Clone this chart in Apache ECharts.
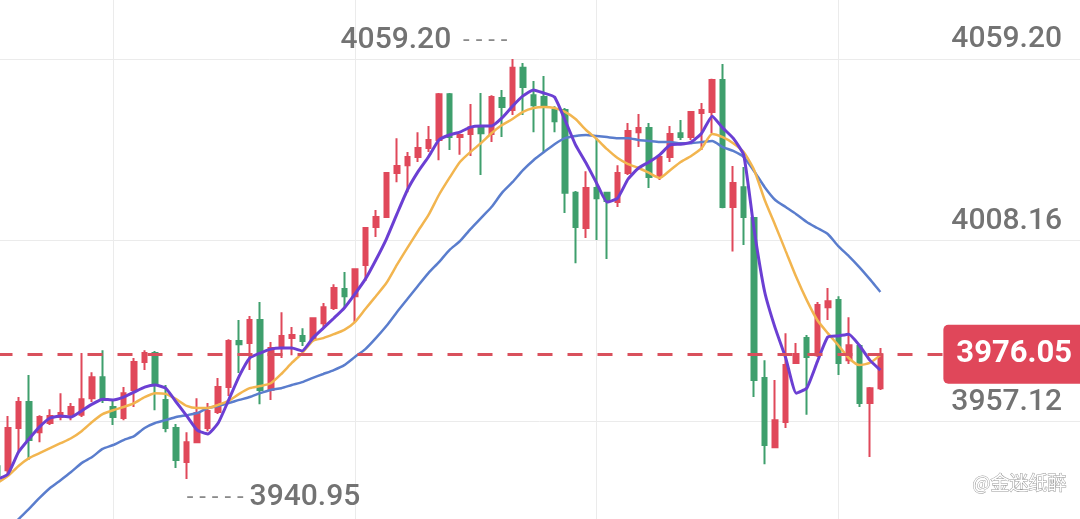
<!DOCTYPE html>
<html>
<head>
<meta charset="utf-8">
<script src="https://cdn.jsdelivr.net/npm/echarts@6/dist/echarts.min.js"></script>
<style>
  html, body { margin: 0; padding: 0; background: #fff; }
  #chart { width: 1080px; height: 519px; }
</style>
</head>
<body>
<div id="chart"></div>
<script>
// candles, left to right
var opens = [3944.5, 3943.4, 3955.3, 3962.6, 3954.1, 3956.7, 3958.4, 3959.0, 3959.0, 3963.7,
  3969.6, 3961.2, 3958.1, 3966.0, 3973.9, 3976.4, 3963.2, 3955.3, 3945.7, 3951.3,
  3955.3, 3959.8, 3966.8, 3979.8, 3979.2, 3985.7, 3966.0, 3977.8, 3980.6, 3981.2,
  3980.3, 3984.8, 3989.1, 3994.4, 3992.4, 4001.2, 4011.9, 4014.7, 4027.1, 4029.3,
  4031.6, 4034.1, 4036.4, 4049.3, 4037.2, 4038.1, 4040.0, 4038.1, 4048.2, 4044.8,
  4056.7, 4049.0, 4048.5, 4044.8, 4044.8, 4021.5, 4011.6, 4022.9, 4021.5, 4018.9,
  4027.1, 4038.6, 4039.8, 4026.0, 4031.6, 4038.3, 4037.2, 4044.0, 4044.3, 4053.3,
  4017.5, 4023.1, 4014.4, 3969.4, 3949.9, 3957.0, 3973.6, 3980.6, 3975.8, 3989.3,
  3991.3, 3974.4, 3978.4, 3962.3, 3966.5]
var closes = [3942.0, 3955.3, 3962.6, 3951.9, 3958.4, 3958.7, 3959.5, 3961.2, 3963.4, 3969.6,
  3963.2, 3958.4, 3965.1, 3973.9, 3976.4, 3967.4, 3955.3, 3946.3, 3951.3, 3959.5,
  3960.1, 3966.8, 3979.8, 3978.9, 3985.7, 3966.0, 3977.8, 3981.2, 3981.5, 3979.8,
  3986.2, 3989.3, 3994.7, 3992.4, 4000.0, 4011.6, 4014.7, 4027.1, 4029.1, 4031.6,
  4034.1, 4036.4, 4049.3, 4037.2, 4037.8, 4040.0, 4038.3, 4048.5, 4045.7, 4056.7,
  4051.3, 4046.2, 4045.7, 4041.7, 4021.5, 4011.9, 4022.9, 4020.0, 4019.2, 4027.1,
  4038.9, 4039.8, 4026.0, 4031.6, 4038.1, 4037.2, 4044.3, 4044.8, 4053.3, 4017.5,
  4024.3, 4014.7, 3968.8, 3950.5, 3957.5, 3973.0, 3976.1, 3975.3, 3989.9, 3991.0,
  3973.6, 3978.6, 3962.3, 3966.5, 3976.05]
var lows = [3941.2, 3942.0, 3948.5, 3946.3, 3951.3, 3956.1, 3957.5, 3957.5, 3958.4, 3962.6,
  3962.3, 3956.1, 3957.5, 3961.2, 3971.6, 3960.3, 3954.1, 3944.0, 3940.95, 3951.0,
  3954.4, 3959.2, 3964.3, 3970.8, 3971.6, 3962.0, 3963.2, 3975.0, 3975.8, 3978.4,
  3979.8, 3983.7, 3988.5, 3989.3, 3985.1, 3996.7, 4009.1, 4014.4, 4024.5, 4021.7,
  4030.2, 4033.0, 4030.7, 4033.6, 4032.2, 4031.9, 4026.5, 4035.8, 4037.2, 4043.4,
  4043.4, 4038.6, 4032.7, 4038.6, 4015.8, 4001.7, 4008.8, 4008.2, 4002.9, 4017.5,
  4026.5, 4034.4, 4022.9, 4025.1, 4030.2, 4036.4, 4036.4, 4033.6, 4038.3, 4017.2,
  4005.0, 4006.8, 3964.0, 3945.1, 3949.6, 3955.3, 3973.3, 3959.0, 3975.3, 3985.7,
  3970.2, 3973.3, 3961.2, 3947.1, 3966.0]
var highs = [3946.0, 3958.7, 3964.0, 3970.2, 3958.9, 3960.6, 3965.1, 3962.3, 3976.4, 3971.0,
  3977.2, 3963.2, 3966.8, 3975.0, 3977.2, 3977.0, 3967.4, 3956.4, 3954.1, 3963.7,
  3962.3, 3969.4, 3980.3, 3985.7, 3986.8, 3990.8, 3979.5, 3987.9, 3983.7, 3983.4,
  3986.5, 3990.5, 3995.8, 3999.2, 4000.3, 4011.9, 4016.7, 4027.4, 4036.9, 4033.0,
  4038.6, 4040.3, 4049.6, 4049.6, 4038.1, 4046.5, 4049.6, 4049.0, 4050.5, 4059.2,
  4058.1, 4053.0, 4054.4, 4045.9, 4045.4, 4022.0, 4027.6, 4036.9, 4021.7, 4029.3,
  4041.2, 4043.7, 4041.2, 4031.9, 4040.3, 4042.0, 4044.5, 4046.8, 4053.6, 4057.8,
  4029.1, 4028.8, 4014.7, 3974.4, 3968.8, 3982.0, 3979.2, 3981.5, 3990.8, 3994.7,
  3992.4, 3986.5, 3978.9, 3966.8, 3977.8]

// moving averages
var maFast = [3940.9, 3942.3, 3948.5, 3952.2, 3955.6, 3958.1, 3958.7, 3958.4, 3960.1, 3962.0,
  3963.4, 3963.2, 3964.0, 3965.4, 3966.8, 3967.4, 3966.5, 3962.6, 3958.7, 3954.7,
  3953.6, 3956.7, 3963.2, 3969.9, 3975.0, 3976.4, 3977.5, 3977.8, 3977.8, 3977.0,
  3980.6, 3983.4, 3986.2, 3989.1, 3993.0, 3997.2, 4002.6, 4008.5, 4015.5, 4022.3,
  4027.4, 4031.6, 4036.4, 4037.8, 4038.6, 4040.0, 4040.3, 4040.3, 4042.6, 4045.9,
  4048.8, 4050.5, 4049.6, 4048.5, 4042.0, 4035.0, 4029.9, 4024.3, 4018.9, 4020.0,
  4025.4, 4028.5, 4030.2, 4032.2, 4035.0, 4035.2, 4035.8, 4038.3, 4043.1, 4039.8,
  4036.9, 4032.2, 4011.0, 3993.6, 3983.4, 3975.0, 3965.1, 3966.5, 3973.9, 3980.9,
  3981.2, 3981.7, 3978.6, 3974.4, 3971.6]
var maMid = [3939.8, 3941.8, 3944.6, 3946.8, 3948.2, 3949.6, 3951.0, 3952.4, 3954.4, 3957.0,
  3959.2, 3960.3, 3961.2, 3962.3, 3964.0, 3965.1, 3964.9, 3963.4, 3961.5, 3960.9,
  3960.9, 3961.8, 3962.9, 3964.9, 3966.5, 3967.1, 3967.9, 3970.5, 3973.6, 3976.4,
  3979.8, 3980.6, 3981.7, 3982.9, 3985.1, 3988.8, 3992.4, 3996.1, 4001.2, 4006.0,
  4010.7, 4015.2, 4020.9, 4025.7, 4030.2, 4033.0, 4035.5, 4038.3, 4040.6, 4042.3,
  4044.3, 4045.4, 4045.7, 4045.4, 4044.3, 4042.3, 4039.2, 4036.7, 4033.8, 4031.3,
  4029.6, 4028.5, 4027.1, 4025.7, 4027.9, 4030.2, 4031.9, 4034.1, 4038.1, 4037.2,
  4035.5, 4033.0, 4027.9, 4019.5, 4012.4, 4005.1, 3997.8, 3991.3, 3985.7, 3982.0,
  3978.6, 3975.0, 3973.0, 3973.6, 3975.8]
var maSlow = [3923.5, 3926.6, 3929.6, 3932.5, 3935.6, 3938.4, 3940.6, 3942.9, 3945.4, 3947.1,
  3949.4, 3950.5, 3951.9, 3953.0, 3955.3, 3956.7, 3957.5, 3958.4, 3958.9, 3959.5,
  3960.9, 3961.5, 3962.3, 3963.2, 3964.0, 3965.1, 3966.0, 3966.5, 3967.4, 3968.2,
  3969.4, 3970.5, 3971.6, 3973.0, 3975.3, 3977.5, 3980.6, 3984.0, 3987.9, 3991.6,
  3995.3, 3998.9, 4002.0, 4005.4, 4007.9, 4011.3, 4014.4, 4017.5, 4021.5, 4024.5,
  4027.9, 4030.7, 4033.0, 4035.2, 4036.9, 4037.5, 4037.8, 4037.5, 4037.2, 4036.9,
  4036.9, 4036.4, 4036.1, 4035.8, 4035.8, 4035.5, 4035.5, 4035.8, 4036.1, 4034.4,
  4033.3, 4031.6, 4027.6, 4023.1, 4019.5, 4017.5, 4015.5, 4013.3, 4011.6, 4009.9,
  4006.5, 4003.7, 4000.6, 3997.2, 3993.6]

// price scale: the three grid lines of the picture
var yMin = 3906.08
var yMax = 4075.81
var yStep = 51.04

var RED = '#e0485a'
var GREEN = '#3f9f6d'
var NUM_FONT = 'Roboto, "Liberation Sans", sans-serif'

var slots = 104
var cats = []
for (var i = 0; i < slots; i++) cats.push(String(i))

var kData = opens.map(function (o, i) {
  return [o, closes[i], lows[i], highs[i]]
})
var lastClose = closes[closes.length - 1]

var chart = echarts.init(document.getElementById('chart'))
var option = {
  animation: false,
  backgroundColor: '#fff',
  grid: {
    left: -2.5,
    top: 0,
    width: 1082.5,
    height: (yMax - yMin) * 3.5512,
    outerBoundsMode: 'none',
    containLabel: false
  },
  xAxis: {
    type: 'category',
    data: cats,
    boundaryGap: false,
    axisLine: { show: false },
    axisTick: { show: false },
    axisLabel: { show: false },
    splitLine: {
      show: true,
      interval: function (idx) { return (idx - 11) % 23 === 0 },
      lineStyle: { color: '#ebebeb', width: 1 }
    }
  },
  yAxis: {
    type: 'value',
    position: 'right',
    min: yMin,
    max: yMax,
    interval: yStep,
    axisLine: { show: false },
    axisTick: { show: false },
    axisLabel: {
      inside: true,
      margin: 18,
      verticalAlign: 'bottom',
      padding: [0, 0, 4, 0],
      color: '#737373',
      fontSize: 30,
      fontWeight: 500,
      fontFamily: NUM_FONT,
      showMaxLabel: false,
      showMinLabel: false,
      formatter: function (v) { return v.toFixed(2) }
    },
    splitLine: {
      show: true,
      showMaxLine: false,
      lineStyle: { color: '#ebebeb', width: 1 }
    }
  },
  graphic: [
    {
      type: 'text',
      right: 13,
      top: 473,
      style: {
        text: '@金迷纸醉',
        font: '19px "Noto Sans CJK SC"',
        fill: '#ffffff',
        stroke: '#9a9a9a',
        lineWidth: 1
      }
    }
  ],
  series: [
    {
      type: 'candlestick',
      data: kData,
      barWidth: 5,
      itemStyle: {
        color: RED,
        color0: GREEN,
        borderColor: RED,
        borderColor0: GREEN,
        borderWidth: 2
      },
      markPoint: {
        symbol: 'circle',
        symbolSize: 0,
        silent: true,
        label: {
          show: true,
          rich: {
            v: { fontSize: 30, fontWeight: 500, fontFamily: NUM_FONT, color: '#737373' },
            d: { fontSize: 24, fontFamily: NUM_FONT, color: '#8a8a8a' }
          }
        },
        data: [
          {
            type: 'max',
            valueDim: 'highest',
            label: {
              position: 'left',
              distance: 5,
              offset: [0, -18],
              formatter: function (p) { return '{v|' + p.value.toFixed(2) + '}{d|  - - - -}' }
            }
          },
          {
            type: 'min',
            valueDim: 'lowest',
            label: {
              position: 'right',
              distance: 0,
              offset: [0, 19],
              formatter: function (p) { return '{d|- - - - - }{v|' + p.value.toFixed(2) + '}' }
            }
          }
        ]
      },
      markLine: {
        symbol: 'none',
        silent: true,
        lineStyle: { color: '#d9505c', width: 3, type: [15, 15] },
        label: {
          show: true,
          position: 'end',
          distance: 0,
          color: '#fff',
          fontWeight: 'bold',
          fontSize: 31,
          fontFamily: NUM_FONT,
          backgroundColor: '#e0475a',
          borderRadius: 5,
          padding: [14, 12, 14, 13],
          formatter: function () { return lastClose.toFixed(2) }
        },
        data: [[{ coord: [0, lastClose] }, { coord: [90, lastClose] }]]
      }
    },
    {
      type: 'line',
      data: maSlow,
      symbol: 'none',
      smooth: 0.2,
      lineStyle: { color: '#5a7dcd', width: 2.5 }
    },
    {
      type: 'line',
      data: maMid,
      symbol: 'none',
      smooth: 0.2,
      lineStyle: { color: '#f2b54f', width: 2.5 }
    },
    {
      type: 'line',
      data: maFast,
      symbol: 'none',
      smooth: 0.15,
      lineStyle: { color: '#6b3fd3', width: 3 }
    }
  ]
}
chart.setOption(option)
</script>
</body>
</html>
